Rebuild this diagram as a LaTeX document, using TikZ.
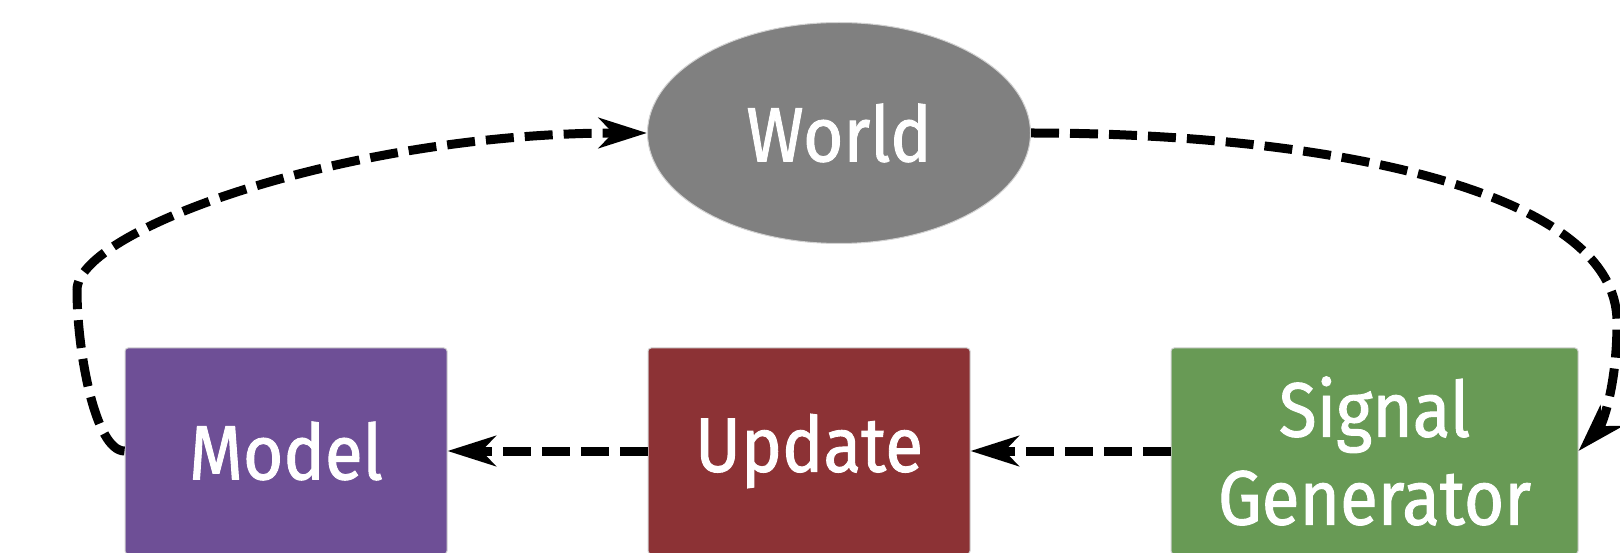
\documentclass[tikz,border=0pt]{standalone}
\usepackage{fontspec}
\setmainfont[FakeStretch=0.9,FakeBold=1.2]{Fira Sans}
\usetikzlibrary{shapes.geometric,arrows.meta}
\definecolor{worldgray}{RGB}{128,128,128}
\definecolor{modelpurple}{RGB}{110,79,150}
\definecolor{updatered}{RGB}{140,50,53}
\definecolor{siggreen}{RGB}{104,154,85}
\tikzset{
  boxnode/.style={rectangle, rounded corners=3pt, draw=gray!35, line width=1pt,
    minimum height=206pt, inner sep=0pt, text=white, align=center,
    font=\fontsize{77}{88}\selectfont},
  worldnode/.style={ellipse, fill=worldgray, draw=gray!35, line width=1pt,
    minimum width=383pt, minimum height=221pt, inner sep=0pt, text=white,
    font=\fontsize{77}{88}\selectfont},
  conn/.style={line width=9pt, dash pattern=on 28pt off 11pt,
    -{Stealth[length=48pt,width=30pt,inset=14pt]}},
}
\begin{document}
\begin{tikzpicture}[x=1pt,y=-1pt]
\useasboundingbox (0,0) rectangle (1620,553);
\node[worldnode] (world) at (839,133) {World};
\node[boxnode, fill=modelpurple, minimum width=322pt] (model) at (286,451) {Model};
\node[boxnode, fill=updatered, minimum width=322pt] (update) at (809,451) {Update};
\node[boxnode, fill=siggreen, minimum width=407pt] (sig) at (1374.5,451) {Signal\\Generator};
\coordinate (lc) at (77,290);
\coordinate (rc) at (1617,322);
\draw[conn] (update.west) -- (model.east);
\draw[conn] (sig.west) -- (update.east);
\draw[conn] (model.west) .. controls (95,451) and (77,350) .. (lc)
  .. controls (77,230) and (348,133) .. (world.west);
\draw[conn] (world.east) .. controls (1332,133) and (1617,192) .. (rc)
  .. controls (1617,392) and (1600,428) .. (sig.east);
\end{tikzpicture}
\end{document}
